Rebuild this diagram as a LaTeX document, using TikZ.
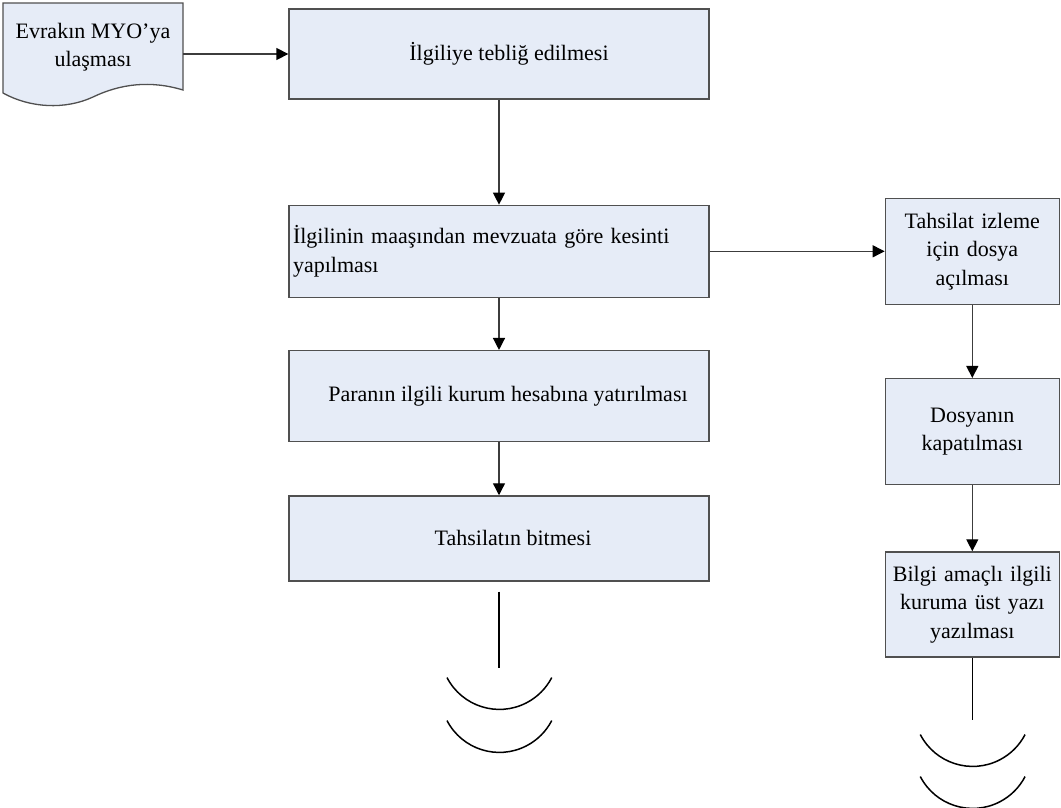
\documentclass[tikz,border=0pt]{standalone}
\usepackage{fontspec}
\setmainfont{Liberation Serif}
\usepackage{xcolor}
\usepackage{tikz}
\usetikzlibrary{arrows.meta, positioning}

\definecolor{boxfill}{RGB}{230,236,247}
\definecolor{boxline}{RGB}{80,80,80}
\definecolor{linkline}{RGB}{60,60,60}

\begin{document}
\begin{tikzpicture}[
  x=1pt, y=1pt,
  box/.style={draw=boxline, fill=boxfill, line width=1.3pt, align=center,
    font=\fontsize{22}{28.5}\selectfont, minimum width=420pt},
  sidebox/.style={box, minimum width=174pt, text width=166pt},
  arrow/.style={draw=linkline, line width=1.3pt, -{Triangle[length=12pt, width=12pt, color=black]}},
  endline/.style={line width=1.5pt, black},
  node distance=52pt and 175pt
]
\useasboundingbox (0,0) rectangle (1061,-807);

% belge
\filldraw[fill=boxfill, draw=boxline, line width=1.3pt] (3,-3) -- (183,-3) -- (183,-90)
  .. controls (150,-80) and (120,-84) .. (93,-97)
  .. controls (65,-110) and (30,-108) .. (3,-93) -- cycle;
\node[align=center, font=\fontsize{22}{28.5}\selectfont, minimum width=180pt, minimum height=88pt] (evrak) at (93,-47) {Evrakın MYO’ya\\ulaşması};

% ana akis
\node[box, minimum height=90pt] (teblig) at (499,-54) {\hspace*{20pt}İlgiliye tebliğ edilmesi};
\node[box, minimum height=92pt, text width=412pt, align=left, below=105pt of teblig] (kesinti) {İlgilinin maaşından mevzuata göre kesinti\\yapılması};
\node[box, minimum height=91pt, below=of kesinti] (yatir) {\hspace*{18pt}Paranın ilgili kurum hesabına yatırılması};
\node[box, minimum height=85pt, below=53pt of yatir] (bitis) {\hspace*{28pt}Tahsilatın bitmesi};

% yan akis
\node[sidebox, minimum height=106pt, right=of kesinti] (dosya) {Tahsilat izleme\\için dosya\\açılması};
\node[sidebox, minimum height=106pt, below=73pt of dosya] (kapat) {Dosyanın\\kapatılması};
\node[sidebox, minimum height=105pt, below=66pt of kapat] (yazi) {Bilgi amaçlı ilgili\\kuruma üst yazı\\yazılması};

\draw[arrow] (evrak.east |- teblig) -- (teblig);
\draw[arrow] (teblig) -- (kesinti);
\draw[arrow] (kesinti) -- (yatir);
\draw[arrow] (yatir) -- (bitis);
\draw[arrow] (kesinti) -- (dosya);
\draw[arrow] (dosya) -- (kapat);
\draw[arrow] (kapat) -- (yazi);

% sonlar
\draw[endline] ([yshift=-10pt]bitis.south) -- ++(0,-76);
\draw[endline] ([shift={(-52,-96)}]bitis.south) arc[start angle=207.4, end angle=332.6, radius=59];
\draw[endline] ([shift={(-52,-139)}]bitis.south) arc[start angle=207.4, end angle=332.6, radius=59];
\draw[endline] (yazi.south) -- ++(0,-62);
\draw[endline] ([shift={(-52,-77)}]yazi.south) arc[start angle=207.4, end angle=332.6, radius=59];
\draw[endline] ([shift={(-52,-119)}]yazi.south) arc[start angle=207.4, end angle=332.6, radius=59];
\end{tikzpicture}
\end{document}
